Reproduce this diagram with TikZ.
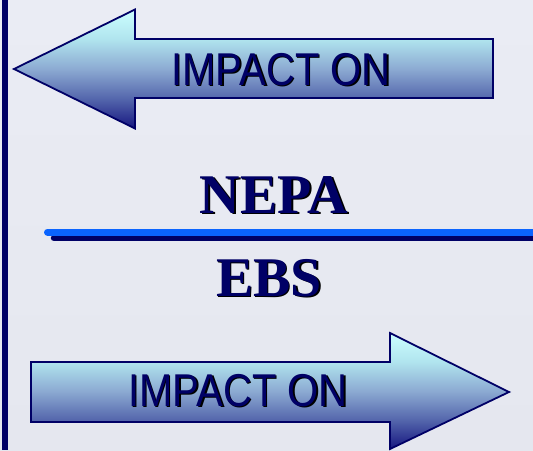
\documentclass[tikz,border=0pt]{standalone}
\usepackage{fontspec}
\setmainfont{Liberation Serif}
\newfontfamily\arrowfont{Liberation Sans}
\usetikzlibrary{calc}

\definecolor{navy}{HTML}{000066}
\definecolor{bgtop}{HTML}{EAECF4}
\definecolor{bgbot}{HTML}{E5E7EF}
\definecolor{rulebl}{HTML}{0A64FF}
\definecolor{gA}{HTML}{CCFFFF}
\definecolor{gB}{HTML}{B0E4EE}
\definecolor{gC}{HTML}{8CAAD2}
\definecolor{gD}{HTML}{5466AC}
\definecolor{gE}{HTML}{161680}

% vertical fill of the arrows: light cyan at the top, deep blue at the bottom
\pgfdeclareverticalshading{arrowgrad}{100bp}{%
  color(0bp)=(gE); color(25bp)=(gE); color(37.5bp)=(gD);
  color(50bp)=(gC); color(62.5bp)=(gB); color(75bp)=(gA); color(100bp)=(gA)}

\tikzset{
  arrowbody/.style={draw=navy, line width=1.8pt, line join=miter, shading=arrowgrad},
  arrowlabel/.style={font=\arrowfont\fontsize{46}{46}\selectfont, inner sep=0pt, anchor=base, xscale=0.87},
  titletext/.style={font=\bfseries\fontsize{56}{56}\selectfont, inner sep=0pt, anchor=base},
}

\begin{document}
\begin{tikzpicture}[x=1pt, y=-1pt]
  \useasboundingbox (0,0) rectangle (533,450);

  % backdrop and left edge bar
  \shade[top color=bgtop, bottom color=bgbot] (0,0) rectangle (533,450);
  \fill[navy] (1.5,0) rectangle (8,450);

  % upper arrow, pointing left
  \path[arrowbody] (14,69) -- (135,9.5) -- (135,39) -- (493,39)
      -- (493,98) -- (135,98) -- (135,128.5) -- cycle;
  \node[arrowlabel, text=black] (topshadow) at (282.5,86.5) {IMPACT ON};
  \node[arrowlabel, text=navy] (toplabel) at (281,85) {IMPACT ON};

  % title texts with their drop shadows
  \node[titletext, text=black] (nepashadow) at (275.5,214.5) {NEPA};
  \node[titletext, text=navy] (nepa) at (274,213) {NEPA};
  \node[titletext, text=black] (ebsshadow) at (270.5,297.5) {EBS};
  \node[titletext, text=navy] (ebs) at (269,296) {EBS};

  % divider rule with its offset shadow
  \draw[navy, line width=6.5pt, line cap=round] (54,238) -- (540,238);
  \draw[rulebl, line width=7pt, line cap=round] (47.5,232) -- (540,232);

  % lower arrow, pointing right
  \path[arrowbody] (31,362) -- (390,362) -- (390,333) -- (509,392)
      -- (390,449) -- (390,422) -- (31,422) -- cycle;
  \node[arrowlabel, text=black] (botshadow) at (239.5,407.5) {IMPACT ON};
  \node[arrowlabel, text=navy] (botlabel) at (238,406) {IMPACT ON};
\end{tikzpicture}
\end{document}
